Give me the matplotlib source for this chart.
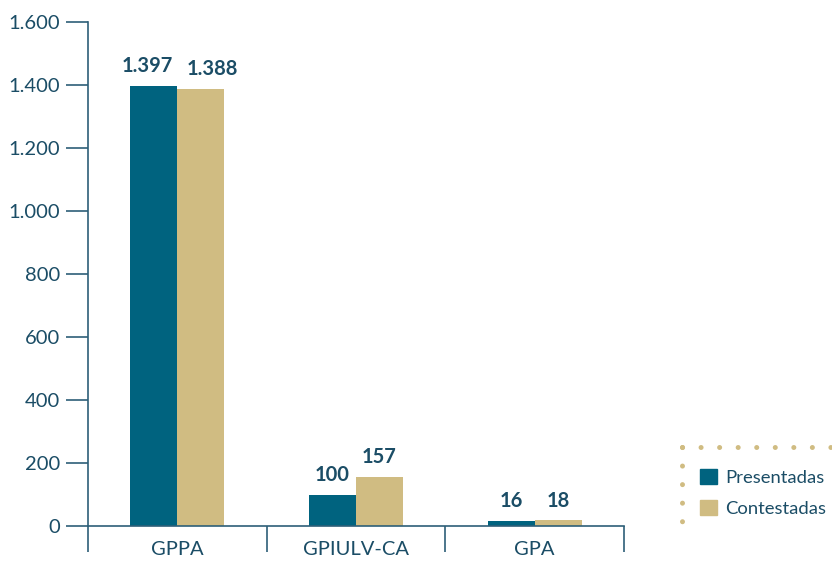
import numpy as np
import matplotlib.pyplot as plt
from matplotlib.lines import Line2D
from matplotlib.patches import Patch

categories = ["GPPA", "GPIULV-CA", "GPA"]
presentadas = [1397, 100, 16]
contestadas = [1388, 157, 18]
labels_pres = ["1.397", "100", "16"]
labels_cont = ["1.388", "157", "18"]
yticks = [0, 200, 400, 600, 800, 1000, 1200, 1400, 1600]
ytick_labels = ["0", "200", "400", "600", "800", "1.000", "1.200", "1.400", "1.600"]

c_pres = "#00637F"
c_cont = "#D0BC82"
c_text = "#1B4D66"
c_axis = "#2D5F78"

plt.rcParams['font.family'] = ['Lato', 'DejaVu Sans']

fig = plt.figure(figsize=(8.32, 5.62), dpi=100)
ax = fig.add_axes([88 / 832, 1 - 526 / 562, (624 - 88) / 832, (526 - 22) / 562])

x = np.arange(len(categories))
w = 0.263
ax.bar(x - w / 2, presentadas, w, color=c_pres)
ax.bar(x + w / 2, contestadas, w, color=c_cont)

# labels of the tall pair are pushed apart so they do not collide
nudge_pres = [-5, 0, 0]
nudge_cont = [8, 0, 0]
for i in range(len(categories)):
    ax.annotate(labels_pres[i], (x[i] - w / 2, presentadas[i]), xytext=(nudge_pres[i], 7),
                textcoords="offset points", ha="center", va="bottom",
                fontsize=14.5, fontweight="bold", color=c_text)
    ax.annotate(labels_cont[i], (x[i] + w / 2, contestadas[i]), xytext=(nudge_cont[i], 7),
                textcoords="offset points", ha="center", va="bottom",
                fontsize=14.5, fontweight="bold", color=c_text)

ax.set_xlim(-0.5, 2.5)
ax.set_ylim(0, 1600)
ax.set_yticks(yticks)
ax.set_yticklabels(ytick_labels)
ax.set_xticks(x)
ax.set_xticklabels(categories)
ax.set_xticks([-0.5, 0.5, 1.5, 2.5], minor=True)
ax.tick_params(axis="x", which="major", length=0, pad=11, labelsize=14.5, labelcolor=c_text)
ax.tick_params(axis="x", which="minor", length=19, width=1.2, color=c_axis)
ax.tick_params(axis="y", length=16, width=1.2, color=c_axis, labelsize=14.5,
               labelcolor=c_text, pad=4)

for s in ["top", "right"]:
    ax.spines[s].set_visible(False)
for s in ["left", "bottom"]:
    ax.spines[s].set_color(c_axis)
    ax.spines[s].set_linewidth(1.2)

# legend
handles = [Patch(color=c_pres), Patch(color=c_cont)]
fig.legend(handles, ["Presentadas", "Contestadas"], loc="upper left",
           bbox_to_anchor=(700 / 832, 1 - 469 / 562), frameon=False,
           fontsize=13.3, labelcolor=c_text, handlelength=0.9, handleheight=0.9,
           handletextpad=0.45, labelspacing=0.75, borderaxespad=0, borderpad=0)

dot = dict(color=c_cont, linestyle=(0, (0.01, 3.7)), linewidth=3.6,
           dash_capstyle="round", transform=fig.transFigure)
fig.add_artist(Line2D([682 / 832, 832 / 832], [1 - 447 / 562, 1 - 447 / 562], **dot))
fig.add_artist(Line2D([682 / 832, 682 / 832], [1 - 447 / 562, 1 - 527 / 562], **dot))

fig.savefig("out.png", dpi=100)
